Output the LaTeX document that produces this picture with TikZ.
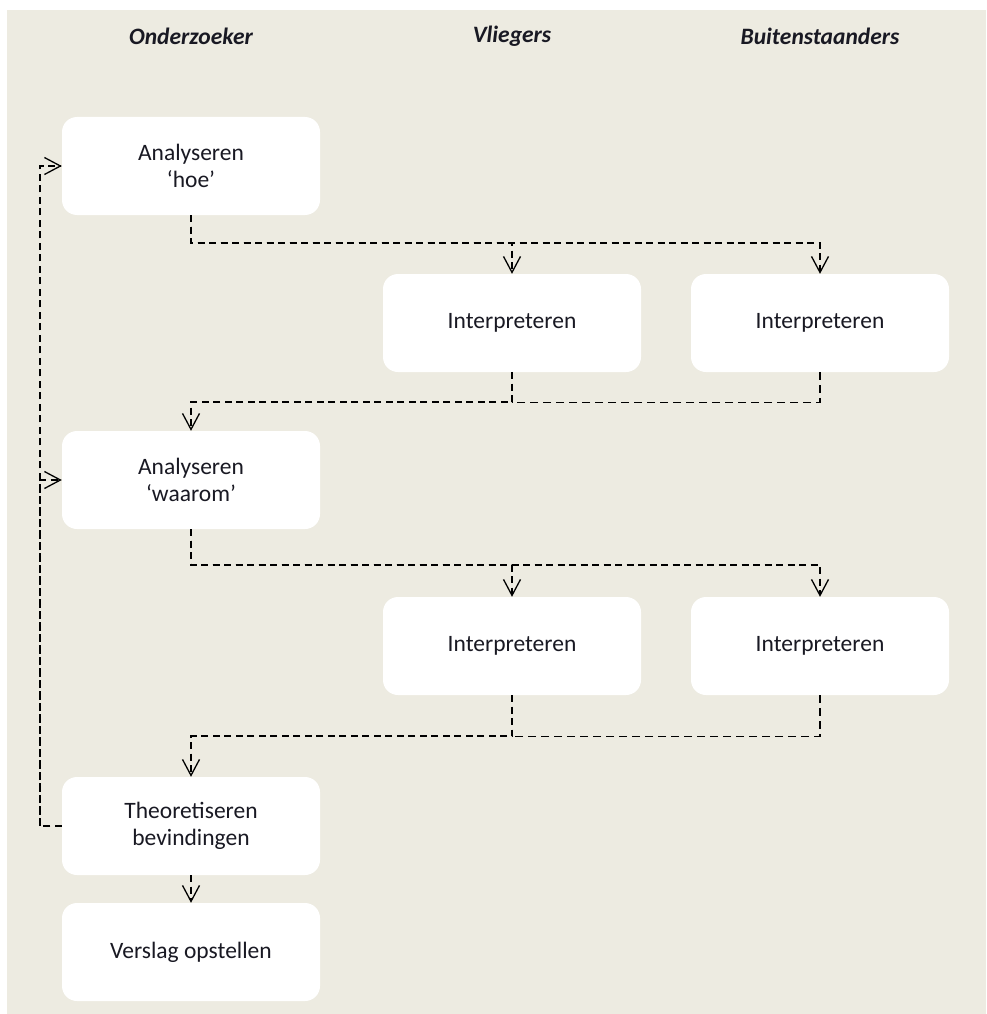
\documentclass[tikz,border=0pt]{standalone}
\usepackage{fontspec}
\setmainfont{Carlito}
\usetikzlibrary{arrows.meta}
\definecolor{beige}{RGB}{237,235,225}
\definecolor{inkt}{RGB}{25,25,35}
\tikzstyle{head} = [font=\fontsize{23.5}{27}\selectfont\bfseries\itshape, text=inkt]
\tikzstyle{process} = [rectangle, rounded corners=15pt, minimum width=258pt, minimum height=98pt, text centered, fill=white, align=center, text=inkt, font=\fontsize{23.5}{27}\selectfont]
\tikzstyle{arrow} = [line width=2.2pt, dash pattern=on 7pt off 4.5pt, -{Straight Barb[length=16pt,width=17pt,line width=1.3pt]}]
\tikzstyle{thinline} = [line width=1.2pt, dash pattern=on 8pt off 5pt]

\begin{document}
\begin{tikzpicture}[x=1pt, y=-1pt, node distance=126pt]
				\useasboundingbox (0,0) rectangle (986,1014);
				\fill [beige] (7,10) rectangle (986,1014);
				
				\node (hOnd) [head] at (191,36) {Onderzoeker};
				\node (hVlie) [head] at (512,36) {Vliegers};
				\node (hBuit) [head] at (820,36) {Buitenstaanders};
				
				\node (ana1) [process] at (191,166) {Analyseren\\‘hoe’};
				\node (int1) [process] at (512,323) {Interpreteren};
				\node (int2) [process] at ([xshift=308pt]int1) {Interpreteren};
				\node (ana2) [process] at (191,480) {Analyseren\\‘waarom’};
				\node (int3) [process] at (512,646) {Interpreteren};
				\node (int4) [process] at ([xshift=308pt]int3) {Interpreteren};
				\node (theo) [process] at (191,826) {Theoretiseren\\bevindingen};
				\node (versl) [process, below of=theo] {Verslag opstellen};
				
				\draw [arrow] (ana1.south) -- ++(0,28) -| (int1.north);
				\draw [arrow] (ana1.south) -- ++(0,28) -| (int2.north);
				\draw [arrow] (int1.south) -- ++(0,30) -| (ana2.north);
				\draw [thinline] (int2.south) |- ([yshift=-30pt]int1.south);
				
				\draw [arrow] (ana2.south) -- ++(0,36) -| (int3.north);
				\draw [arrow] (ana2.south) -- ++(0,36) -| (int4.north);
				\draw [arrow] (int3.south) -- ++(0,41) -| (theo.north);
				\draw [thinline] (int4.south) |- ([yshift=-41pt]int3.south);
				
				\draw [arrow] (theo) -- (versl);
				
				\coordinate (terug) at (40,826);
				\draw [arrow] (theo.west) -- (terug) |- (ana1.west);
				\draw [arrow] (terug) |- (ana2.west);
				
\end{tikzpicture}
\end{document}
